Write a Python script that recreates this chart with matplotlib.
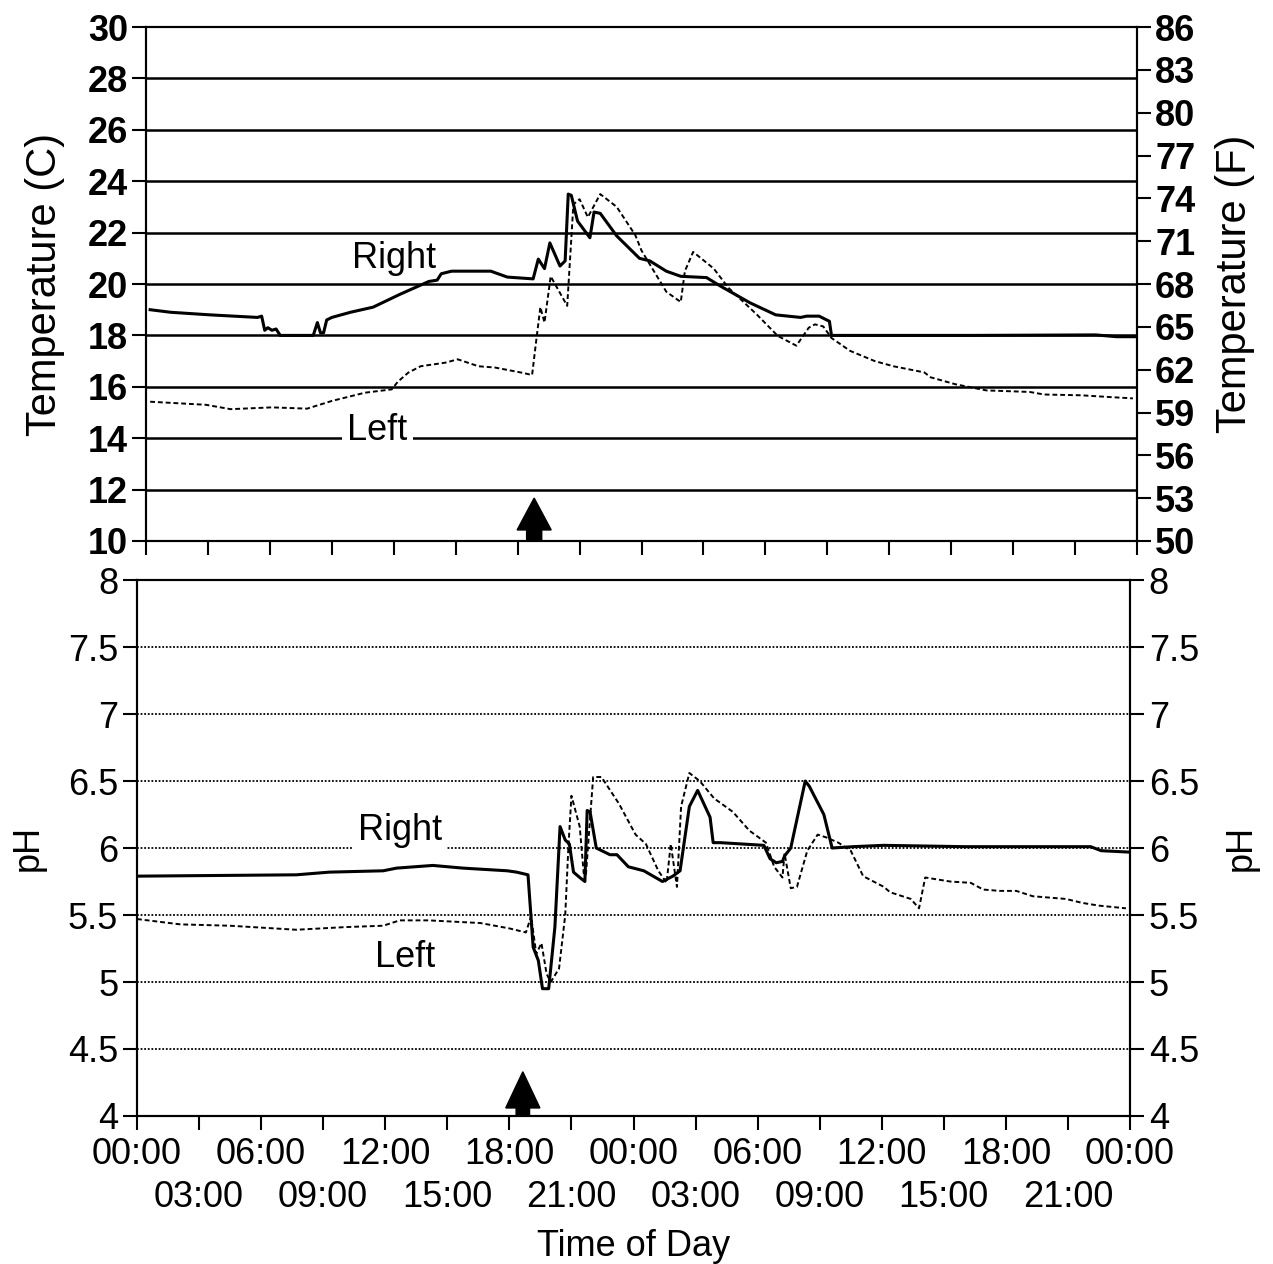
import numpy as np
import matplotlib
matplotlib.use("Agg")
import matplotlib.pyplot as plt
from matplotlib.ticker import FuncFormatter

plt.rcParams['font.family'] = ['Liberation Sans', 'DejaVu Sans']

# --- temperature (deg C) vs hours from start ---
temp_right_t = [0.2, 1.2, 3.1, 5.4, 5.6, 5.75, 5.9, 6.1, 6.3, 6.5, 8.1, 8.3, 8.45, 8.6, 8.75, 9.0,
                9.9, 11.0, 12.3, 13.7, 14.1, 14.3, 14.8, 16.1, 16.7, 17.5, 18.75, 19.0, 19.3, 19.56,
                20.05, 20.3, 20.45, 20.6, 20.9, 21.5, 21.7, 22.0, 22.8, 23.9, 24.4, 25.2, 25.9,
                27.15, 27.8, 29.25, 30.5, 31.7, 32.0, 32.6, 33.1, 33.2, 40.0, 46.0, 47.0, 47.9]
temp_right = [19.0, 18.9, 18.8, 18.7, 18.75, 18.2, 18.3, 18.2, 18.25, 18.0, 18.0, 18.5, 18.1, 18.1,
              18.6, 18.7, 18.9, 19.1, 19.6, 20.1, 20.15, 20.4, 20.5, 20.5, 20.5, 20.27, 20.2, 20.97,
              20.6, 21.6, 20.7, 20.9, 23.5, 23.45, 22.45, 21.8, 22.8, 22.75, 21.87, 21.0, 20.9,
              20.5, 20.3, 20.25, 19.93, 19.27, 18.8, 18.7, 18.75, 18.75, 18.55, 18.0, 18.0, 18.02,
              17.95, 17.95]

temp_left_t = [0.2, 2.9, 4.1, 6.1, 7.8, 9.0, 10.6, 11.9, 12.2, 12.7, 13.3, 14.5, 15.1, 16.1, 16.9,
               18.2, 18.7, 18.9, 19.1, 19.3, 19.6, 20.4, 20.7, 21.0, 21.4, 22.0, 22.8, 23.7, 24.0,
               25.2, 25.9, 26.1, 26.5, 27.5, 28.2, 29.6, 30.6, 31.5, 32.1, 32.4, 32.8, 33.2, 34.1,
               35.3, 36.2, 37.7, 38.0, 39.2, 40.7, 42.8, 43.5, 45.3, 46.7, 47.8]
temp_left = [15.42, 15.3, 15.13, 15.2, 15.15, 15.45, 15.77, 15.9, 16.2, 16.55, 16.8, 16.94, 17.07,
             16.8, 16.75, 16.55, 16.46, 17.8, 19.1, 18.5, 20.3, 19.15, 23.1, 23.3, 22.6, 23.5, 23.0,
             21.9, 21.3, 19.7, 19.3, 20.5, 21.25, 20.6, 19.86, 18.8, 17.98, 17.6, 18.3, 18.43,
             18.35, 17.9, 17.4, 17.0, 16.8, 16.56, 16.37, 16.1, 15.86, 15.8, 15.7, 15.67, 15.6, 15.55]

# --- pH vs hours from start ---
ph_right_t = [0.0, 7.7, 9.3, 11.9, 12.55, 14.3, 15.76, 17.9, 18.35, 18.9, 19.15, 19.4, 19.6, 19.9,
              20.2, 20.45, 20.7, 20.9, 21.1, 21.4, 21.65, 21.76, 21.9, 22.2, 22.86, 23.2, 23.75,
              24.5, 25.4, 25.9, 26.25, 26.7, 27.1, 27.7, 27.85, 28.2, 30.3, 30.6, 30.9, 31.2, 31.3,
              31.6, 32.3, 32.5, 33.2, 33.6, 34.6, 36.1, 40.0, 46.1, 46.6, 47.9]
ph_right = [5.79, 5.8, 5.82, 5.83, 5.85, 5.87, 5.85, 5.83, 5.82, 5.8, 5.26, 5.16, 4.95, 4.95, 5.41,
            6.16, 6.06, 6.03, 5.82, 5.78, 5.75, 6.28, 6.27, 6.0, 5.95, 5.95, 5.86, 5.83, 5.75, 5.79,
            5.83, 6.31, 6.43, 6.23, 6.04, 6.04, 6.02, 5.92, 5.89, 5.9, 5.94, 6.0, 6.5, 6.46, 6.25,
            6.0, 6.01, 6.02, 6.01, 6.01, 5.98, 5.97]

ph_left_t = [0.0, 2.1, 4.5, 7.7, 10.1, 11.9, 12.7, 14.1, 16.6, 18.0, 18.8, 19.05, 19.3, 19.55, 19.8,
             20.0, 20.4, 20.7, 20.85, 21.0, 21.4, 21.6, 21.7, 22.05, 22.45, 23.3, 24.1, 24.6, 25.2,
             25.6, 25.8, 26.1, 26.3, 26.7, 27.2, 27.9, 28.8, 29.6, 30.4, 30.8, 31.2, 31.3, 31.6,
             31.9, 32.4, 32.9, 33.3, 33.9, 34.5, 35.1, 36.1, 36.4, 37.4, 37.8, 38.1, 39.3, 40.3,
             40.9, 41.7, 42.5, 43.3, 44.1, 44.9, 45.7, 46.5, 47.8]
ph_left = [5.47, 5.43, 5.42, 5.39, 5.41, 5.42, 5.46, 5.46, 5.44, 5.4, 5.37, 5.49, 5.21, 5.29, 5.06,
           5.0, 5.1, 5.5, 6.0, 6.39, 6.16, 5.8, 5.8, 6.53, 6.53, 6.33, 6.1, 6.03, 5.83, 5.74, 6.03,
           5.71, 6.31, 6.56, 6.5, 6.37, 6.27, 6.13, 6.04, 5.86, 5.78, 5.96, 5.7, 5.71, 5.98, 6.1,
           6.08, 6.04, 5.98, 5.79, 5.71, 5.67, 5.62, 5.55, 5.78, 5.75, 5.74, 5.69, 5.68, 5.68, 5.64,
           5.63, 5.62, 5.59, 5.57, 5.55]

time_ticks = np.arange(0, 49, 3)
time_labels = ["00:00", "03:00", "06:00", "09:00", "12:00", "15:00", "18:00", "21:00"] * 2 + ["00:00"]
arrow_time_top = 18.8
arrow_time_bottom = 18.65

FS = 26
FS_TEMP = 30
fig = plt.figure(figsize=(12.73, 12.64), dpi=100)
ax1 = fig.add_axes([0.1147, 0.572, 0.7785, 0.4066])
ax2 = fig.add_axes([0.1076, 0.1171, 0.7801, 0.4240])

# ---------- top panel: temperature ----------
ax1.plot(temp_right_t, temp_right, color='black', lw=2.2, zorder=3)
ax1.plot(temp_left_t, temp_left, color='black', lw=1.4, ls=(0, (2.5, 1.5)), zorder=3)
ax1.set_xlim(0, 48)
ax1.set_ylim(10, 30)
ax1.set_yticks(np.arange(10, 31, 2))
for y in np.arange(12, 30, 2):
    ax1.axhline(y, color='black', lw=1.8, zorder=1)
ax1.set_xticks(time_ticks)
ax1.set_xticklabels([])
ax1.tick_params(axis='both', direction='out', length=10, width=1.5, labelsize=FS, pad=3)
for lab in ax1.get_yticklabels():
    lab.set_fontweight('bold')
ax1.set_ylabel("Temperature (C)", fontsize=FS_TEMP, labelpad=16)
ax1.arrow(arrow_time_top, 10, 0, 1.67, width=0.73, head_width=1.65, head_length=1.24,
          length_includes_head=True, color='black', zorder=4, clip_on=False)
ax1.text(12.0, 21.0, "Right", fontsize=FS, ha='center', va='center', zorder=5)
ax1.text(11.2, 14.3, "Left", fontsize=FS, ha='center', va='center', zorder=5,
         bbox=dict(facecolor='white', edgecolor='none', pad=4))

ax1r = ax1.twinx()
ax1r.set_ylim(50, 86)
ax1r.set_yticks(np.arange(50, 87, 3))
ax1r.tick_params(axis='y', direction='out', length=10, width=1.5, labelsize=FS, pad=3)
for lab in ax1r.get_yticklabels():
    lab.set_fontweight('bold')
ax1r.set_ylabel("Temperature (F)", fontsize=FS_TEMP, labelpad=14)

# ---------- bottom panel: pH ----------
ax2.plot(ph_right_t, ph_right, color='black', lw=2.2, zorder=3)
ax2.plot(ph_left_t, ph_left, color='black', lw=1.4, ls=(0, (2.5, 1.5)), zorder=3)
ax2.set_xlim(0, 48)
ax2.set_ylim(4, 8)
ph_ticks = np.arange(4, 8.01, 0.5)
ax2.set_yticks(ph_ticks)
ax2.yaxis.set_major_formatter(FuncFormatter(lambda v, p: f"{v:g}"))
for y in ph_ticks[1:-1]:
    ax2.axhline(y, color='black', lw=1.3, ls=(0, (1, 1)), zorder=1)
ax2.set_xticks(time_ticks[::2])
ax2.set_xticklabels(time_labels[::2])
ax2.set_xticks(time_ticks[1::2], minor=True)
ax2.set_xticklabels(time_labels[1::2], minor=True)
ax2.tick_params(axis='both', which='both', direction='out', length=10, width=1.5, labelsize=FS)
ax2.tick_params(axis='x', which='major', pad=5)
ax2.tick_params(axis='x', which='minor', pad=36)
ax2.set_ylabel("pH", fontsize=FS, labelpad=16)
ax2.set_xlabel("Time of Day", fontsize=FS, labelpad=10)
ax2.arrow(arrow_time_bottom, 4, 0, 0.33, width=0.65, head_width=1.65, head_length=0.27,
          length_includes_head=True, color='black', zorder=4, clip_on=False)
ax2.text(12.7, 6.13, "Right", fontsize=FS, ha='center', va='center', zorder=5,
         bbox=dict(facecolor='white', edgecolor='none', pad=4))
ax2.text(12.95, 5.18, "Left", fontsize=FS, ha='center', va='center', zorder=5,
         bbox=dict(facecolor='white', edgecolor='none', pad=4))

ax2r = ax2.twinx()
ax2r.set_ylim(4, 8)
ax2r.set_yticks(ph_ticks)
ax2r.yaxis.set_major_formatter(FuncFormatter(lambda v, p: f"{v:g}"))
ax2r.tick_params(axis='y', direction='out', length=10, width=1.5, labelsize=FS)
ax2r.set_ylabel("pH", fontsize=FS, labelpad=18)

for a in (ax1, ax1r, ax2, ax2r):
    for s in a.spines.values():
        s.set_linewidth(1.5)

fig.savefig("out.png", dpi=100)
